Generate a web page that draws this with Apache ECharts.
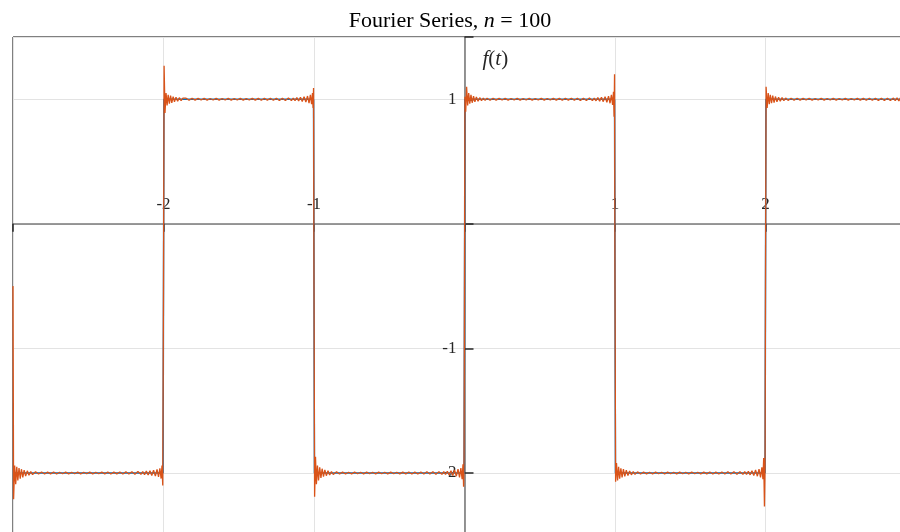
<!DOCTYPE html>
<html><head><meta charset="utf-8">
<script src="https://cdn.jsdelivr.net/npm/echarts@6/dist/echarts.min.js"></script>
<style>html,body{margin:0;padding:0;background:#fff}#c{width:900px;height:532px}</style>
</head><body><div id="c"></div><script>
// Square wave: 1 on (0,1), -2 on (1,2), period 2
const squareWave = [[-3,-2],[-2.003,-2],[-1.997,1],[-1.003,1],[-0.997,-2],[-0.003,-2],[0.003,1],[0.997,1],[1.003,-2],[1.997,-2],[2.003,1],[3,1]];

// Partial sum, n = 100, one array per half period
const fourierA = [[-3.000,-0.50],[-2.996,-2.21],[-2.989,-1.94],[-2.982,-2.09],[-2.975,-1.95],[-2.968,-2.06],[-2.960,-1.96],[-2.952,-2.045],[-2.944,-1.97],[-2.935,-2.035],[-2.926,-1.977],[-2.916,-2.025],[-2.905,-1.983],[-2.894,-2.018],[-2.882,-1.988],[-2.870,-2.013],
[-2.85,-1.991],[-2.83,-2.009],[-2.81,-1.992],[-2.79,-2.008],[-2.77,-1.993],[-2.75,-2.007],[-2.73,-1.992],[-2.71,-2.008],[-2.69,-1.994],[-2.67,-2.006],[-2.65,-1.993],[-2.63,-2.007],[-2.61,-1.994],[-2.59,-2.006],[-2.57,-1.993],[-2.55,-2.007],[-2.53,-1.994],[-2.51,-2.006],[-2.49,-1.993],[-2.47,-2.007],[-2.45,-1.994],[-2.43,-2.006],[-2.41,-1.993],[-2.39,-2.007],[-2.37,-1.992],[-2.35,-2.008],[-2.33,-1.993],[-2.31,-2.007],[-2.29,-1.992],[-2.27,-2.008],[-2.25,-1.991],[-2.23,-2.009],[-2.21,-1.99],[-2.19,-2.01],[-2.17,-1.989],[-2.15,-2.011],
[-2.138,-1.988],[-2.126,-2.013],[-2.114,-1.985],[-2.102,-2.016],[-2.090,-1.982],[-2.078,-2.02],[-2.066,-1.978],[-2.054,-2.025],[-2.043,-1.972],[-2.033,-2.032],[-2.024,-1.962],[-2.016,-2.045],[-2.010,-1.94],[-2.005,-2.10],[-2.000,-0.50]];

const fourierB = [[-1.996,1.27],[-1.990,0.89],[-1.983,1.05],[-1.976,0.95],[-1.969,1.035],[-1.961,0.965],[-1.953,1.03],[-1.945,0.972],[-1.936,1.022],[-1.927,0.979],[-1.917,1.017],[-1.906,0.985],[-1.895,1.013],[-1.883,0.989],[-1.871,1.01],
[-1.85,1.009],[-1.83,0.992],[-1.81,1.008],[-1.79,0.993],[-1.77,1.007],[-1.75,0.994],[-1.73,1.007],[-1.71,0.993],[-1.69,1.006],[-1.67,0.994],[-1.65,1.007],[-1.63,0.993],[-1.61,1.006],[-1.59,0.994],[-1.57,1.007],[-1.55,0.993],[-1.53,1.006],[-1.51,0.994],[-1.49,1.007],[-1.47,0.993],[-1.45,1.006],[-1.43,0.994],[-1.41,1.007],[-1.39,0.993],[-1.37,1.007],[-1.35,0.992],[-1.33,1.008],[-1.31,0.993],[-1.29,1.008],[-1.27,0.992],[-1.25,1.009],[-1.23,0.991],[-1.21,1.009],[-1.19,0.991],[-1.17,1.01],[-1.15,0.99],
[-1.138,1.01],[-1.126,0.989],[-1.114,1.013],[-1.102,0.986],[-1.090,1.016],[-1.078,0.982],[-1.066,1.02],[-1.054,0.978],[-1.043,1.026],[-1.033,0.97],[-1.024,1.035],[-1.016,0.96],[-1.010,1.05],[-1.006,0.93],[-1.003,1.09],[-1.000,-0.50]];

const fourierC = [[-0.996,-2.19],[-0.990,-1.87],[-0.984,-2.09],[-0.977,-1.94],[-0.970,-2.06],[-0.962,-1.955],[-0.954,-2.04],[-0.946,-1.966],[-0.937,-2.03],[-0.928,-1.975],[-0.918,-2.022],[-0.907,-1.982],[-0.896,-2.016],[-0.884,-1.988],[-0.872,-2.012],
[-0.85,-1.991],[-0.83,-2.008],[-0.81,-1.993],[-0.79,-2.007],[-0.77,-1.994],[-0.75,-2.007],[-0.73,-1.993],[-0.71,-2.006],[-0.69,-1.994],[-0.67,-2.007],[-0.65,-1.993],[-0.63,-2.006],[-0.61,-1.994],[-0.59,-2.007],[-0.57,-1.993],[-0.55,-2.006],[-0.53,-1.994],[-0.51,-2.007],[-0.49,-1.993],[-0.47,-2.006],[-0.45,-1.994],[-0.43,-2.007],[-0.41,-1.993],[-0.39,-2.007],[-0.37,-1.992],[-0.35,-2.008],[-0.33,-1.993],[-0.31,-2.008],[-0.29,-1.992],[-0.27,-2.009],[-0.25,-1.991],[-0.23,-2.009],[-0.21,-1.991],[-0.19,-2.01],[-0.17,-1.99],[-0.15,-2.011],
[-0.138,-1.99],[-0.126,-2.012],[-0.114,-1.986],[-0.102,-2.016],[-0.090,-1.982],[-0.078,-2.02],[-0.066,-1.976],[-0.054,-2.026],[-0.043,-1.97],[-0.033,-2.035],[-0.024,-1.96],[-0.016,-2.05],[-0.010,-1.93],[-0.006,-2.11],[-0.003,-1.88],[0.000,-0.50]];

const fourierD = [[0.003,1.02],[0.008,0.90],[0.014,1.10],[0.021,0.95],[0.028,1.05],[0.035,0.965],[0.043,1.035],[0.051,0.972],[0.060,1.025],[0.069,0.979],[0.079,1.018],[0.090,0.985],[0.101,1.013],[0.113,0.989],[0.125,1.01],[0.137,0.991],
[0.15,1.009],[0.17,0.992],[0.19,1.008],[0.21,0.993],[0.23,1.007],[0.25,0.994],[0.27,1.007],[0.29,0.993],[0.31,1.006],[0.33,0.994],[0.35,1.007],[0.37,0.993],[0.39,1.006],[0.41,0.994],[0.43,1.007],[0.45,0.993],[0.47,1.006],[0.49,0.994],[0.51,1.007],[0.53,0.993],[0.55,1.006],[0.57,0.994],[0.59,1.007],[0.61,0.993],[0.63,1.007],[0.65,0.992],[0.67,1.008],[0.69,0.993],[0.71,1.008],[0.73,0.992],[0.75,1.009],[0.77,0.991],[0.79,1.009],[0.81,0.991],[0.83,1.01],[0.85,0.99],
[0.862,1.01],[0.874,0.988],[0.886,1.013],[0.898,0.985],[0.910,1.016],[0.922,0.981],[0.934,1.02],[0.946,0.976],[0.957,1.026],[0.967,0.968],[0.976,1.036],[0.984,0.955],[0.990,1.06],[0.994,0.86],[0.997,1.20],[1.000,-0.50]];

const fourierE = [[1.004,-2.07],[1.010,-1.92],[1.017,-2.06],[1.024,-1.95],[1.031,-2.045],[1.039,-1.962],[1.047,-2.035],[1.056,-1.97],[1.065,-2.027],[1.075,-1.977],[1.086,-2.02],[1.097,-1.984],[1.109,-2.015],[1.121,-1.988],[1.133,-2.011],
[1.15,-1.991],[1.17,-2.008],[1.19,-1.993],[1.21,-2.007],[1.23,-1.994],[1.25,-2.007],[1.27,-1.993],[1.29,-2.006],[1.31,-1.994],[1.33,-2.007],[1.35,-1.993],[1.37,-2.006],[1.39,-1.994],[1.41,-2.007],[1.43,-1.993],[1.45,-2.006],[1.47,-1.994],[1.49,-2.007],[1.51,-1.993],[1.53,-2.006],[1.55,-1.994],[1.57,-2.007],[1.59,-1.993],[1.61,-2.007],[1.63,-1.992],[1.65,-2.008],[1.67,-1.993],[1.69,-2.008],[1.71,-1.992],[1.73,-2.009],[1.75,-1.991],[1.77,-2.009],[1.79,-1.991],[1.81,-2.01],[1.83,-1.99],[1.85,-2.011],
[1.862,-1.99],[1.874,-2.012],[1.886,-1.986],[1.898,-2.015],[1.910,-1.982],[1.922,-2.02],[1.934,-1.976],[1.946,-2.026],[1.957,-1.97],[1.967,-2.035],[1.976,-1.955],[1.983,-2.05],[1.988,-1.88],[1.993,-2.27],[1.997,-1.95],[2.000,-0.50]];

const fourierF = [[2.004,1.10],[2.011,0.93],[2.018,1.05],[2.025,0.96],[2.032,1.035],[2.040,0.968],[2.048,1.03],[2.057,0.974],[2.066,1.022],[2.076,0.98],[2.087,1.017],[2.098,0.985],[2.110,1.013],[2.122,0.989],[2.134,1.01],
[2.15,0.991],[2.17,1.009],[2.19,0.992],[2.21,1.008],[2.23,0.993],[2.25,1.007],[2.27,0.994],[2.29,1.007],[2.31,0.993],[2.33,1.006],[2.35,0.994],[2.37,1.007],[2.39,0.993],[2.41,1.006],[2.43,0.994],[2.45,1.007],[2.47,0.993],[2.49,1.006],[2.51,0.994],[2.53,1.007],[2.55,0.993],[2.57,1.006],[2.59,0.994],[2.61,1.007],[2.63,0.993],[2.65,1.007],[2.67,0.992],[2.69,1.008],[2.71,0.992],[2.73,1.008],[2.75,0.991],[2.77,1.009],[2.79,0.991],[2.81,1.009],[2.83,0.99],[2.85,1.01],
[2.862,0.989],[2.874,1.012],[2.886,0.986],[2.898,1.015],[2.910,0.982],[2.922,1.02],[2.934,0.976],[2.946,1.026],[2.957,0.97],[2.967,1.035],[2.976,0.955],[2.984,1.05],[2.990,0.92],[2.995,1.12],[3.000,-0.50]];

const fourierSum = [].concat(fourierA, fourierB, fourierC, fourierD, fourierE, fourierF);

// Tick labels that carry text
const xTickLabels = [-2, -1, 1, 2];
const yTickLabels = [1, -1, -2];

const serif = "'Liberation Serif', 'DejaVu Serif', serif";
const ink = '#262626';

// Plot box; the right and bottom edges run past the canvas
const box = { left: 13, top: 37, right: -16, bottom: -3.25 };
const W = 900, H = 532;
const xRange = [-3, 3], yRange = [-2.5, 1.5];
const plotW = W - box.left - box.right, plotH = H - box.top - box.bottom;
// Axes cross at the origin: shift each axis line from the box edge to zero
const xAxisShift = -plotH * (0 - yRange[0]) / (yRange[1] - yRange[0]);
const yAxisShift = -plotW * (0 - xRange[0]) / (xRange[1] - xRange[0]);

const chart = echarts.init(document.getElementById('c'), null, { renderer: 'canvas' });
chart.setOption({
  animation: false,
  backgroundColor: '#ffffff',
  title: {
    text: '{a|Fourier Series, }{i|n}{a| = 100}',
    left: 'center',
    top: 5,
    textStyle: {
      fontWeight: 'normal',
      rich: {
        a: { fontFamily: serif, fontSize: 22, fontWeight: 'normal', color: '#000' },
        i: { fontFamily: serif, fontSize: 22, fontWeight: 'normal', fontStyle: 'italic', color: '#000' }
      }
    }
  },
  grid: {
    left: box.left, top: box.top, right: box.right, bottom: box.bottom,
    outerBoundsMode: 'none', containLabel: false,
    show: true, borderColor: '#000', borderWidth: 1, backgroundColor: 'transparent'
  },
  xAxis: {
    type: 'value', min: xRange[0], max: xRange[1], interval: 1,
    position: 'bottom', offset: xAxisShift,
    axisLine: { onZero: false, lineStyle: { color: '#7a7a7a', width: 1.6 } },
    axisTick: { inside: false, length: 8, lineStyle: { color: ink, width: 1.5 } },
    axisLabel: {
      inside: true, margin: 11,
      fontFamily: serif, fontSize: 17, color: ink,
      formatter: v => xTickLabels.includes(v) ? String(v) : ''
    },
    splitLine: { show: true, lineStyle: { color: '#e3e3e3', width: 1 } }
  },
  yAxis: {
    type: 'value', min: yRange[0], max: yRange[1], minInterval: 1, maxInterval: 1,
    position: 'left', offset: yAxisShift,
    name: '{i|f}{r|(}{i|t}{r|)}',
    nameLocation: 'end', nameGap: -22,
    nameTextStyle: {
      align: 'left', verticalAlign: 'middle', padding: [0, 0, 0, 18],
      rich: {
        i: { fontFamily: serif, fontSize: 21, fontStyle: 'italic', color: ink },
        r: { fontFamily: serif, fontSize: 21, color: ink }
      }
    },
    axisLine: { onZero: false, lineStyle: { color: '#7a7a7a', width: 1.6 } },
    axisTick: { inside: true, length: 9, lineStyle: { color: ink, width: 1.5 } },
    axisLabel: {
      margin: 8,
      fontFamily: serif, fontSize: 17, color: ink,
      formatter: v => yTickLabels.includes(v) ? String(v) : ''
    },
    splitLine: { show: true, lineStyle: { color: '#e3e3e3', width: 1 } }
  },
  series: [
    {
      name: 'f(t)', type: 'line', data: squareWave, showSymbol: false,
      lineStyle: { color: '#0072BD', width: 1.5 }, z: 2
    },
    {
      name: 'n = 100', type: 'line', data: fourierSum, showSymbol: false,
      lineStyle: { color: '#D95319', width: 1.3 }, z: 3
    }
  ]
});
</script></body></html>
